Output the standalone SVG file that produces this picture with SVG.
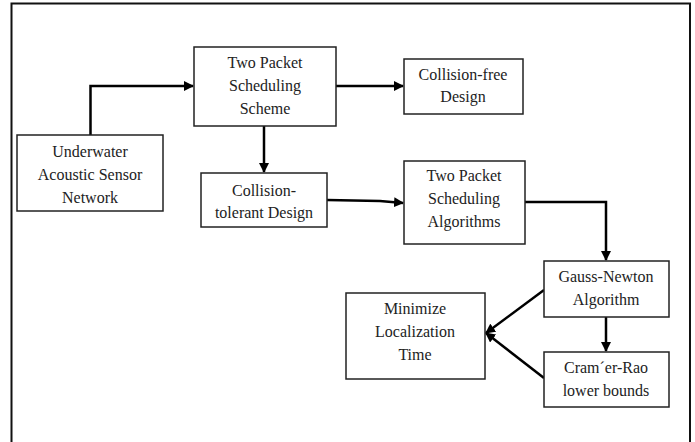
<svg xmlns="http://www.w3.org/2000/svg" width="695" height="442" viewBox="0 0 695 442">
<style>
.box{fill:#fff;stroke:#222;stroke-width:1.5}
.t{font-family:"Liberation Serif","Times New Roman",serif;font-size:16px;fill:#222;text-anchor:middle}
.c{fill:none;stroke:#000;stroke-width:2.5}
</style>
<defs>
<marker id="ah" viewBox="0 0 10 10" refX="9" refY="5" markerWidth="4" markerHeight="4" orient="auto" markerUnits="strokeWidth">
<path d="M0,0 L10,5 L0,10 z" fill="#000"/>
</marker>
</defs>
<rect x="0" y="0" width="695" height="442" fill="#fff"/>
<path d="M11.5,460 V3.5 H690 V460" fill="none" stroke="#111" stroke-width="2"/>
<g id="connectors">
<polyline class="c" points="90.5,135 90.5,86 193,86" marker-end="url(#ah)"/>
<polyline class="c" points="336,86 403,86" marker-end="url(#ah)"/>
<polyline class="c" points="264,126 264,172" marker-end="url(#ah)"/>
<polyline class="c" points="327,200 380,201 403,203" marker-end="url(#ah)"/>
<polyline class="c" points="525,202 606,202 606,260" marker-end="url(#ah)"/>
<polyline class="c" points="606,317 606,351" marker-end="url(#ah)"/>
<polyline class="c" points="544,290 486,333" marker-end="url(#ah)"/>
<polyline class="c" points="544,378 486,333" marker-end="url(#ah)"/>
</g>
<g id="n-underwater">
<rect class="box" x="17" y="135" width="146" height="76"/>
<text class="t" x="90" y="157">Underwater</text>
<text class="t" x="90" y="180">Acoustic Sensor</text>
<text class="t" x="90" y="203">Network</text>
</g>
<g id="n-scheme">
<rect class="box" x="194" y="47" width="142" height="79"/>
<text class="t" x="265" y="68">Two Packet</text>
<text class="t" x="265" y="91">Scheduling</text>
<text class="t" x="265" y="114">Scheme</text>
</g>
<g id="n-tolerant">
<rect class="box" x="201" y="173" width="126" height="54"/>
<text class="t" x="264" y="196">Collision-</text>
<text class="t" x="264" y="218">tolerant Design</text>
</g>
<g id="n-free">
<rect class="box" x="404" y="59" width="119" height="55"/>
<text class="t" x="463" y="80">Collision-free</text>
<text class="t" x="463" y="102">Design</text>
</g>
<g id="n-algorithms">
<rect class="box" x="404" y="161" width="121" height="83"/>
<text class="t" x="464" y="181">Two Packet</text>
<text class="t" x="464" y="204">Scheduling</text>
<text class="t" x="464" y="227">Algorithms</text>
</g>
<g id="n-gauss">
<rect class="box" x="544" y="261" width="125" height="56"/>
<text class="t" x="606" y="282">Gauss-Newton</text>
<text class="t" x="606" y="305">Algorithm</text>
</g>
<g id="n-cramer">
<rect class="box" x="544" y="352" width="125" height="55"/>
<text class="t" x="606" y="373">Cram´er-Rao</text>
<text class="t" x="606" y="396">lower bounds</text>
</g>
<g id="n-minimize">
<rect class="box" x="346" y="293" width="139" height="86"/>
<text class="t" x="415" y="314">Minimize</text>
<text class="t" x="415" y="337">Localization</text>
<text class="t" x="415" y="360">Time</text>
</g>
</svg>
